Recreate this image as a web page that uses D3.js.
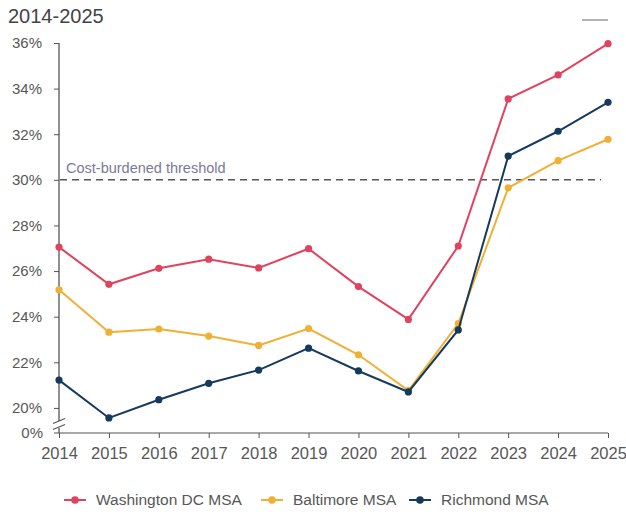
<!DOCTYPE html>
<html>
<head>
<meta charset="utf-8">
<script src="https://cdn.jsdelivr.net/npm/d3@7/dist/d3.min.js"></script>
<style>
  html, body { margin: 0; padding: 0; background: #fff; }
  svg { display: block; font-family: "Liberation Sans", Arial, sans-serif; }
</style>
</head>
<body>
<svg id="chart" width="626" height="518"></svg>
<script>
// Share of income spent on housing, by metro area
const years = [2014, 2015, 2016, 2017, 2018, 2019, 2020, 2021, 2022, 2023, 2024, 2025];
const washington = [27.05, 25.42, 26.12, 26.52, 26.14, 26.98, 25.32, 23.88, 27.1, 33.55, 34.6, 35.97];
const baltimore  = [25.18, 23.32, 23.46, 23.15, 22.74, 23.48, 22.33, 20.76, 23.7, 29.65, 30.84, 31.78];
const richmond   = [21.22, 19.56, 20.36, 21.08, 21.66, 22.62, 21.62, 20.7, 23.42, 31.04, 32.13, 33.4];
const seriesNames = ["Washington DC MSA", "Baltimore MSA", "Richmond MSA"];
const seriesColors = ["#e0435d", "#f0b035", "#163a5e"];
const yTicks = [20, 22, 24, 26, 28, 30, 32, 34, 36];
const threshold = 30;
const thresholdLabel = "Cost-burdened threshold";
const title = "2014-2025";

const series = [washington, baltimore, richmond].map((vals, i) => ({
  name: seriesNames[i], color: seriesColors[i],
  points: years.map((yr, j) => ({ year: yr, value: vals[j] }))
}));

const svg = d3.select("#chart");
const axisColor = "#555";
const textColor = "#575757";

// value at the x-axis baseline (shown as 0% below the axis break)
const yBase = 18.9;
const x = d3.scalePoint().domain(years).range([59, 608]);
const y = d3.scaleLinear().domain([yBase, 36]).range([433, 43]);

// title
svg.append("text").attr("x", 8).attr("y", 23)
  .attr("font-size", 20).attr("fill", "#444").text(title);

// small grey mark at top right
svg.append("line").attr("x1", 582).attr("x2", 608).attr("y1", 20).attr("y2", 20)
  .attr("stroke", "#999").attr("stroke-width", 1.5);

// y axis
const yAxis = d3.axisLeft(y).tickValues(yTicks).tickSize(5).tickPadding(12)
  .tickFormat(d => d + "%");
const gy = svg.append("g").attr("transform", "translate(59,0)").call(yAxis);
gy.select(".domain").remove();
gy.selectAll(".tick line").attr("stroke", axisColor);
gy.selectAll(".tick text").attr("fill", textColor).attr("font-size", 15)
  .attr("font-family", "Liberation Sans, Arial, sans-serif");

// y axis line with break
svg.append("line").attr("x1", 59).attr("x2", 59).attr("y1", y(36)).attr("y2", 421)
  .attr("stroke", axisColor).attr("stroke-width", 1.3);
svg.append("line").attr("x1", 59).attr("x2", 59).attr("y1", 428).attr("y2", 433)
  .attr("stroke", axisColor).attr("stroke-width", 1.3);
[421, 427].forEach(yy => {
  svg.append("line").attr("x1", 53).attr("x2", 65).attr("y1", yy + 2.5).attr("y2", yy - 2.5)
    .attr("stroke", axisColor).attr("stroke-width", 1.2);
});
// 0% tick at baseline
svg.append("line").attr("x1", 54).attr("x2", 59).attr("y1", y(yBase)).attr("y2", y(yBase))
  .attr("stroke", axisColor);
svg.append("text").attr("x", 43).attr("y", y(yBase)).attr("dy", "0.32em")
  .attr("text-anchor", "end").attr("font-size", 15).attr("fill", textColor).text("0%");

// x axis
const xAxis = d3.axisBottom(x).tickSize(5).tickPadding(9).tickFormat(d3.format("d"));
const gx = svg.append("g").attr("transform", `translate(0,${y(yBase)})`).call(xAxis);
gx.select(".domain").attr("stroke", axisColor).attr("d", `M59,0H608`);
gx.selectAll(".tick line").attr("stroke", axisColor);
gx.selectAll(".tick text").attr("fill", textColor).attr("font-size", 16.5)
  .attr("font-family", "Liberation Sans, Arial, sans-serif");

// threshold line
svg.append("line").attr("x1", 60).attr("x2", 601)
  .attr("y1", y(threshold)).attr("y2", y(threshold))
  .attr("stroke", "#555").attr("stroke-width", 1.5).attr("stroke-dasharray", "7,5");
svg.append("text").attr("x", 66).attr("y", y(threshold) - 7)
  .attr("font-size", 14.5).attr("fill", "#7a7a96").text(thresholdLabel);

// series lines and markers
const line = d3.line().x(d => x(d.year)).y(d => y(d.value));
// Baltimore underneath, Richmond on top
[series[1], series[0], series[2]].forEach(s => {
  svg.append("path").datum(s.points).attr("d", line)
    .attr("fill", "none").attr("stroke", s.color).attr("stroke-width", 2);
  svg.append("g").selectAll("circle").data(s.points).join("circle")
    .attr("cx", d => x(d.year)).attr("cy", d => y(d.value)).attr("r", 3.6)
    .attr("fill", s.color);
});

// legend
const legendX = [64, 261, 409];
const lg = svg.append("g");
series.forEach((s, i) => {
  const g = lg.append("g").attr("transform", `translate(${legendX[i]},500)`);
  g.append("line").attr("x1", 0).attr("x2", 22).attr("stroke", s.color).attr("stroke-width", 2);
  g.append("circle").attr("cx", 11).attr("r", 3.8).attr("fill", s.color);
  g.append("text").attr("x", 32).attr("dy", "0.35em").attr("font-size", 15.5)
    .attr("fill", textColor).text(s.name);
});
</script>
</body>
</html>
